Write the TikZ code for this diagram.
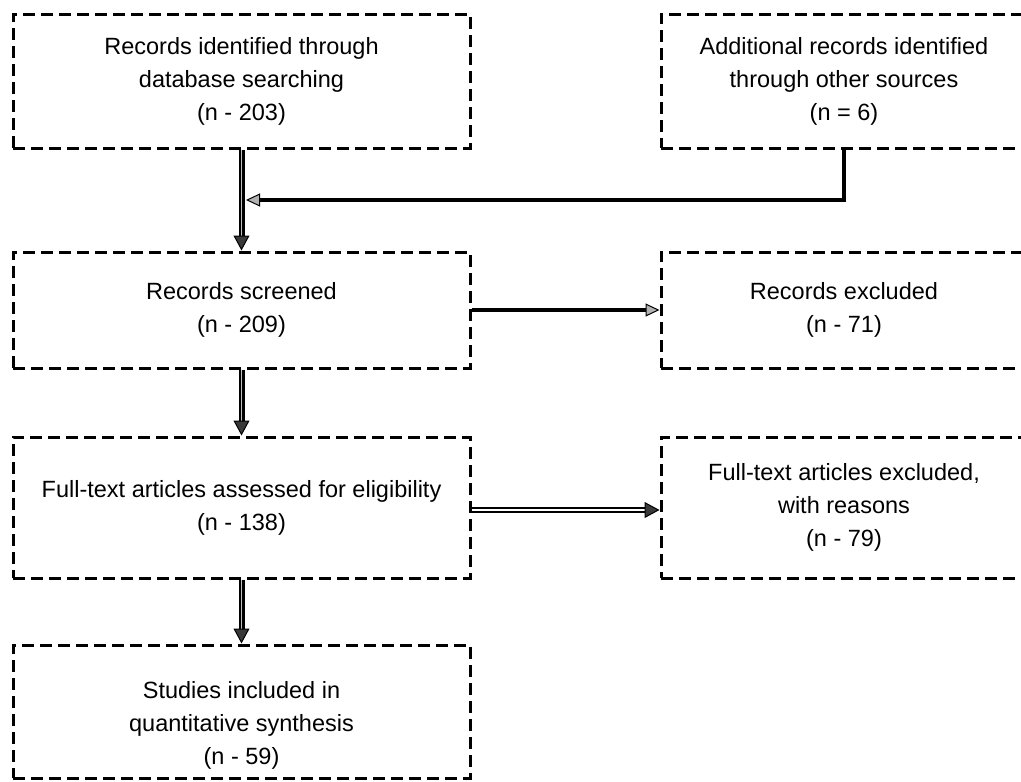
\documentclass[tikz,border=0pt]{standalone}
\usepackage{fontspec}
\setmainfont{Liberation Sans}
\usetikzlibrary{arrows.meta,positioning}

\begin{document}
\begin{tikzpicture}[x=1pt,y=-1pt,
    box/.style={draw, dash pattern=on 12pt off 6pt, line width=3pt, align=center,
        inner sep=0pt, font=\fontsize{23.5}{33}\selectfont},
    flow/.style={draw=black, line width=2.4pt, double=gray!50, double distance=1.2pt,
        -{Triangle[length=15pt, width=16pt, fill=gray!45!black, line width=1pt]}},
    thin flow/.style={draw=black, line width=3.4pt,
        -{Triangle[length=14pt, width=13pt, fill=gray!60, line width=1pt]}}]
    \clip (0,0) rectangle (1021,782);
    \node[box, minimum width=457pt, minimum height=134pt] (1) at (241.5,81)
        {Records identified through\\database searching\\(n - 203)};
    \node[box, minimum width=366pt, minimum height=134pt] (2) at (844,81)
        {Additional records identified\\through other sources\\(n = 6)};
    \node[box, minimum width=457pt, minimum height=116pt] (3) at (241.5,310)
        {Records screened\\(n - 209)};
    \node[box, minimum width=366pt, minimum height=116pt] (4) at (844,310)
        {Records excluded\\(n - 71)};
    \node[box, minimum width=457pt, minimum height=141pt] (5) at (241.5,507.5)
        {Full-text articles assessed for eligibility\\(n - 138)};
    \node[box, minimum width=366pt, minimum height=141pt] (6) at (844,507.5)
        {Full-text articles excluded,\\with reasons\\(n - 79)};
    \node[box, minimum width=457pt, minimum height=133pt] (7) at (241.5,711.5)
        {\\[12pt]Studies included in\\quantitative synthesis\\(n - 59)};
    \coordinate (join) at (246,200);
    % main flow
    \draw[flow] (1) -- (3);
    \draw[flow] (3) -- (5);
    \draw[flow] (5) -- (7);
    \draw[thin flow] (2.south) |- (join);
    % exclusions
    \draw[thin flow] (3.east) -- (4.west);
    \draw[flow, double=white] (5.east |- 0,510) -- (6.west |- 0,510);
\end{tikzpicture}
\end{document}
